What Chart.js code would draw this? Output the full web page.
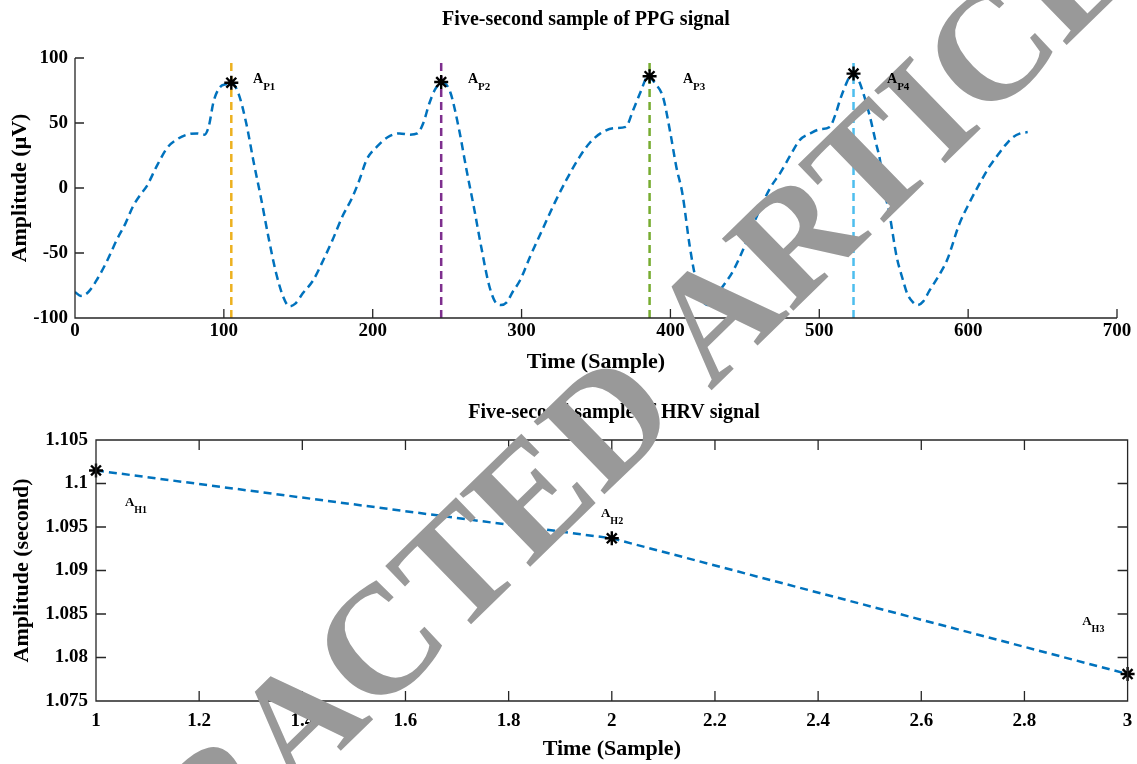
<!DOCTYPE html>
<html>
<head>
<meta charset="utf-8">
<script src="https://cdn.jsdelivr.net/npm/chart.js@4.4.1/dist/chart.umd.min.js"></script>
<style>
  html, body { margin: 0; padding: 0; background: #fff; }
  #wrap { position: relative; width: 1137px; height: 764px; overflow: hidden; }
  #ppg { position: absolute; left: 0; top: 0; }
  #hrv { position: absolute; left: 0; top: 385px; }
</style>
</head>
<body>
<div id="wrap">
  <canvas id="ppg" width="1137" height="385"></canvas>
  <canvas id="hrv" width="1137" height="379"></canvas>
</div>
<script>
// PPG signal
const ppgSamples = [0, 4, 9, 15, 22, 28, 34, 39, 44, 48, 55, 62, 68, 75, 82, 87, 90, 93, 97, 102, 105,
  110, 115, 120, 125, 130, 135, 140, 144, 148, 153, 160, 167, 173, 180, 186, 191, 196, 203, 210, 218,
  225, 230, 234, 238, 242, 247, 252, 258, 263, 268, 273, 278, 282, 286, 290, 294, 299, 306, 314, 322,
  330, 339, 346, 353, 362, 370, 375, 380, 385, 390, 395, 400, 404, 408, 413, 417, 421, 425, 429, 435,
  442, 449, 455, 461, 467, 474, 481, 487, 494, 500, 507, 511, 514, 518, 521, 523, 526, 529, 534, 538,
  541, 543, 547, 552, 556, 559, 563, 566, 570, 574, 580, 586, 594, 601, 608, 614, 619, 625, 630, 635, 640];
const ppgAmplitude = [-80, -83, -80, -70, -55, -40, -27, -14, -5, 1, 17, 31, 37, 41, 42, 41, 48, 66, 77, 80, 81,
  72, 50, 20, -8, -38, -65, -84, -91, -89, -81, -71, -55, -40, -21, -8, 6, 22, 32, 39, 42,
  41, 42, 50, 65, 76, 81, 74, 45, 14, -15, -46, -74, -87, -90, -88, -80, -71, -52, -32, -12,
  6, 24, 35, 42, 46, 47, 60, 74, 86, 80, 70, 42, 16, -4, -45, -70, -85, -90, -86, -76,
  -64, -47, -30, -14, 0, 12, 26, 37, 42, 45, 47, 57, 68, 80, 87, 88, 84, 75, 55, 35,
  20, 2, -19, -53, -70, -81, -88, -90, -87, -79, -68, -55, -28, -11, 4, 16, 24, 33, 39, 42, 43];
const ppgPeakSamples = [105, 246, 386, 523];
const ppgPeakAmplitude = [81, 81.5, 86, 88];
const ppgPeakNames = ['P1', 'P2', 'P3', 'P4'];
const ppgXTicks = [0, 100, 200, 300, 400, 500, 600, 700];
const ppgYTicks = [-100, -50, 0, 50, 100];

// HRV signal
const hrvSamples = [1, 2, 3];
const hrvSeconds = [1.1015, 1.0937, 1.0781];
const hrvNames = ['H1', 'H2', 'H3'];
const hrvXTicks = [1, 1.2, 1.4, 1.6, 1.8, 2, 2.2, 2.4, 2.6, 2.8, 3];
const hrvYTicks = [1.075, 1.08, 1.085, 1.09, 1.095, 1.1, 1.105];

const FONT = '"Liberation Serif", "Times New Roman", serif';
const STAMP = 'RETRACTED ARTICLE';
const peakColors = ['#EDB120', '#7E2F8E', '#77AC30', '#4DBEEE'];
const pts = (xs, ys) => xs.map((x, i) => ({ x: x, y: ys[i] }));

// axes box + inward ticks, title, stamp, "A_xx" labels
const decor = {
  id: 'decor',
  afterDatasetsDraw(chart, args, o) {
    const { ctx, chartArea: a, scales: { x, y } } = chart;
    ctx.save();
    ctx.strokeStyle = '#262626';
    ctx.lineWidth = 1.3;
    ctx.beginPath();
    if (o.box) {
      ctx.rect(a.left, a.top, a.right - a.left, a.bottom - a.top);
    } else {
      ctx.moveTo(a.left, a.top);
      ctx.lineTo(a.left, a.bottom);
      ctx.lineTo(a.right, a.bottom);
    }
    x.ticks.forEach(t => {
      const px = x.getPixelForValue(t.value);
      ctx.moveTo(px, a.bottom); ctx.lineTo(px, a.bottom - o.tick);
      if (o.box) { ctx.moveTo(px, a.top); ctx.lineTo(px, a.top + o.tick); }
    });
    y.ticks.forEach(t => {
      const py = y.getPixelForValue(t.value);
      ctx.moveTo(a.left, py); ctx.lineTo(a.left + o.tick, py);
      if (o.box) { ctx.moveTo(a.right, py); ctx.lineTo(a.right - o.tick, py); }
    });
    ctx.stroke();

    ctx.fillStyle = '#000';
    ctx.textAlign = 'center';
    ctx.textBaseline = 'middle';
    ctx.font = 'bold 20px ' + FONT;
    ctx.fillText(o.title, o.titleX, o.titleY);

    // the retraction stamp runs across both panels
    ctx.save();
    ctx.translate(571, 471 - o.offsetY);
    ctx.rotate(-44.2 * Math.PI / 180);
    ctx.fillStyle = '#999';
    ctx.font = 'bold 155px ' + FONT;
    ctx.fillText(STAMP, 0, 0);
    ctx.restore();

    ctx.textAlign = 'left';
    ctx.textBaseline = 'alphabetic';
    o.labels.forEach((lb, i) => {
      const lx = x.getPixelForValue(lb[0]);
      const ly = y.getPixelForValue(lb[1]);
      ctx.font = 'bold ' + o.big + 'px ' + FONT;
      ctx.fillText('A', lx, ly);
      const w = ctx.measureText('A').width;
      ctx.font = 'bold ' + o.small + 'px ' + FONT;
      ctx.fillText(o.names[i], lx + w, ly + o.small * 0.7);
    });
    ctx.restore();
  }
};

function axisX(ticks, height, pad, min, max, tpad) {
  return {
    type: 'linear', min: min, max: max,
    grid: { display: false, drawTicks: false }, border: { display: false },
    afterBuildTicks: s => { s.ticks = ticks.map(v => ({ value: v })); },
    afterFit: s => { s.height = height; s.paddingLeft = 0; s.paddingRight = 0; },
    ticks: { autoSkip: false, maxRotation: 0, padding: pad, color: '#000',
      font: { family: FONT, size: 19, weight: 'bold' }, callback: v => String(v) },
    title: { display: true, text: 'Time (Sample)', color: '#000',
      font: { family: FONT, size: 22, weight: 'bold' }, padding: { top: 0, bottom: tpad } }
  };
}
function axisY(ticks, width, pad, min, max, text, tpad) {
  return {
    type: 'linear', min: min, max: max,
    grid: { display: false, drawTicks: false }, border: { display: false },
    afterBuildTicks: s => { s.ticks = ticks.map(v => ({ value: v })); },
    afterFit: s => { s.width = width; },
    ticks: { autoSkip: false, padding: pad, color: '#000',
      font: { family: FONT, size: 19, weight: 'bold' }, callback: v => String(v) },
    title: { display: true, text: text, color: '#000',
      font: { family: FONT, size: 22, weight: 'bold' }, padding: { top: tpad, bottom: 0 } }
  };
}

const ppgDatasets = [
  { data: pts(ppgSamples, ppgAmplitude), borderColor: '#0072BD', borderWidth: 2.5,
    borderDash: [8, 5], pointRadius: 0, showLine: true, cubicInterpolationMode: 'monotone', order: 3 },
  { data: pts(ppgPeakSamples, ppgPeakAmplitude), showLine: false, pointStyle: 'star',
    pointRadius: 7, borderColor: '#000', borderWidth: 2.4, clip: false, order: 0 }
];
ppgPeakSamples.forEach((s, i) => {
  ppgDatasets.push({ data: [{ x: s, y: -100 }, { x: s, y: 100 }], showLine: true,
    borderColor: peakColors[i], borderWidth: 2.5, borderDash: [8, 5], pointRadius: 0, order: 1 });
});

new Chart(document.getElementById('ppg'), {
  type: 'scatter',
  data: { datasets: ppgDatasets },
  options: {
    responsive: false, animation: false,
    layout: { padding: { top: 58, right: 20, left: 0, bottom: 0 } },
    plugins: {
      legend: { display: false }, tooltip: { enabled: false },
      decor: { box: false, tick: 9, offsetY: 0, title: 'Five-second sample of PPG signal', titleX: 586, titleY: 20,
        big: 14, small: 11, names: ppgPeakNames,
        labels: [[119.6, 81], [264, 81], [408.4, 81], [545.5, 81]] }
    },
    scales: {
      x: axisX(ppgXTicks, 67, 2, 0, 700, 9),
      y: axisY(ppgYTicks, 75, 7, -100, 100, 'Amplitude (μV)', 7)
    }
  },
  plugins: [decor]
});

new Chart(document.getElementById('hrv'), {
  type: 'scatter',
  data: { datasets: [
    { data: pts(hrvSamples, hrvSeconds), showLine: true, borderColor: '#0072BD', borderWidth: 2.5,
      borderDash: [8, 5], pointRadius: 0, tension: 0, order: 1 },
    { data: pts(hrvSamples, hrvSeconds), showLine: false, pointStyle: 'star', pointRadius: 7,
      borderColor: '#000', borderWidth: 2.4, clip: false, order: 0 }
  ] },
  options: {
    responsive: false, animation: false,
    layout: { padding: { top: 55, right: 1, left: 0, bottom: 0 } },
    plugins: {
      legend: { display: false }, tooltip: { enabled: false },
      decor: { box: true, tick: 10, offsetY: 385, title: 'Five-second sample of HRV signal', titleX: 614, titleY: 28,
        big: 13, small: 10, names: hrvNames,
        labels: [[1.056, 1.0974], [1.979, 1.0962], [2.912, 1.0837]] }
    },
    scales: {
      x: axisX(hrvXTicks, 63, 9, 1, 3, 1),
      y: axisY(hrvYTicks, 96, 8, 1.075, 1.105, 'Amplitude (second)', 9)
    }
  },
  plugins: [decor]
});
</script>
</body>
</html>
